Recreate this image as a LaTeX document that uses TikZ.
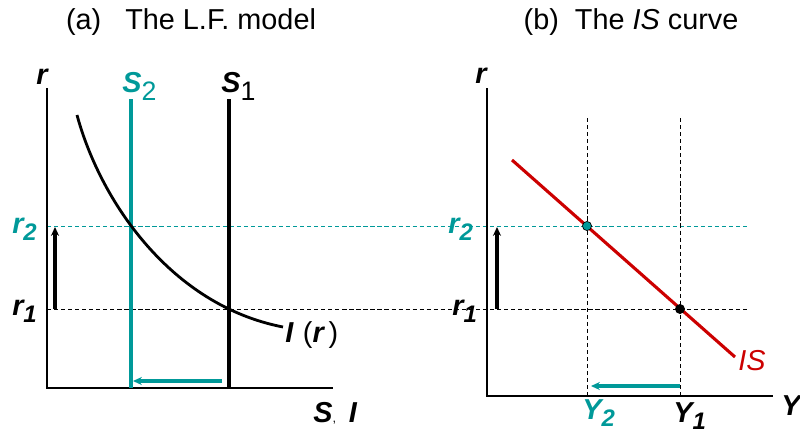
\documentclass[tikz,border=0pt]{standalone}
\usepackage{fontspec}
\setmainfont{Liberation Sans}
\usetikzlibrary{arrows.meta}
\definecolor{lfteal}{RGB}{0,153,153}
\definecolor{isred}{RGB}{204,0,0}
\newcommand{\lowsub}[1]{\raisebox{-0.25em}{\fontsize{17}{20}\selectfont #1}}

\begin{document}
\begin{tikzpicture}[x=0.025cm,y=-0.025cm,>={Stealth[length=2.2mm,width=2mm]},
  lab/.style={font=\fontsize{20.5}{24}\selectfont\bfseries\itshape,inner sep=0pt,anchor=base west},
  ttl/.style={font=\fontsize{20.5}{24}\selectfont,inner sep=0pt,anchor=base},
  axis/.style={line width=1.9pt},
  guide/.style={dash pattern=on 3pt off 2pt,line width=0.6pt},
  dot/.style={circle,draw=black,line width=0.5pt,inner sep=0pt,minimum size=6.5pt}]
\useasboundingbox (0,0) rectangle (800,435);
% titles
\node[ttl] (ta) at (191,29) {(a)\ \ \ The L.F. model};
\node[ttl] (tb) at (631,29) {(b)\ \ The \textit{IS} curve};

% guide lines at r_2 and r_1, across both panels
\coordinate (g2a) at (47,226); \coordinate (g2b) at (750,226);
\coordinate (g1a) at (47,309); \coordinate (g1b) at (750,309);
\draw[guide,lfteal] (g2a) -- (g2b);
\draw[guide] (g1a) -- (g1b);

% (a) loanable funds
\coordinate (atop) at (47,88); \coordinate (ao) at (47,388); \coordinate (aend) at (333,388);
\draw[axis] (atop) -- (ao) -- (aend);
\coordinate (s2top) at (131,99); \coordinate (s2bot) at (131,388);
\coordinate (s1top) at (229,99); \coordinate (s1bot) at (229,388);
\draw[line width=2.4pt,lfteal] (s2top) -- (s2bot);
\draw[line width=2.4pt] (s1top) -- (s1bot);
\draw[line width=2pt] (77,115) .. controls (100,200) and (170,305) .. (283,327);
\coordinate (ua1) at (55,309); \coordinate (ua2) at (55,227);
\draw[->,line width=2.6pt] (ua1) -- (ua2);
\coordinate (la1) at (222,381); \coordinate (la2) at (133,381);
\draw[->,line width=2.2pt,lfteal] (la1) -- (la2);
\node[lab] (ra) at (36,84) {r};
\node[lab,lfteal] (s2) at (122,92) {S\raisebox{-0.3em}{\normalfont\fontsize{19}{20}\selectfont 2}};
\node[lab] (s1) at (221,92) {S\raisebox{-0.3em}{\normalfont\fontsize{19}{20}\selectfont 1}};
\node[lab,lfteal] (r2a) at (12,233) {r\lowsub{2}};
\node[lab] (r1a) at (12,315) {r\lowsub{1}};
\node[lab] (ir) at (285,342) {I\,\,{\normalfont(}r\,{\normalfont)}};
\node[lab] (si) at (313,422) {S{\normalfont\fontsize{9}{10}\selectfont,}\ \,I};

% (b) IS curve
\coordinate (btop) at (487,88); \coordinate (bo) at (487,396); \coordinate (bend) at (773,396);
\draw[axis] (btop) -- (bo) -- (bend);
\coordinate (y2top) at (587,118); \coordinate (y2bot) at (587,396);
\coordinate (y1top) at (680,118); \coordinate (y1bot) at (680,396);
\draw[guide] (y2top) -- (y2bot);
\draw[guide] (y1top) -- (y1bot);
\coordinate (is1) at (512,160); \coordinate (is2) at (735,357);
\draw[line width=2.2pt,isred] (is1) -- (is2);
\node[dot,fill=lfteal] (e2) at (587,226) {};
\node[dot,fill=black] (e1) at (680,309) {};
\coordinate (ub1) at (497,309); \coordinate (ub2) at (497,227);
\draw[->,line width=2.6pt] (ub1) -- (ub2);
\coordinate (lb2) at (591,386);
\draw[->,line width=2.2pt,lfteal] (y1bot |- lb2) -- (lb2);
\node[lab] (rb) at (475,83) {r};
\node[lab,lfteal] (r2b) at (448,233) {r\lowsub{2}};
\node[lab] (r1b) at (452,315) {r\lowsub{1}};
\node[lab,font=\fontsize{20.5}{24}\selectfont\itshape,isred] (isl) at (738,370) {IS};
\node[lab] (yax) at (781,415) {Y};
\node[lab,lfteal] (y2) at (582,419) {Y\lowsub{2}};
\node[lab] (y1) at (673,422) {Y\lowsub{1}};
\end{tikzpicture}
\end{document}
